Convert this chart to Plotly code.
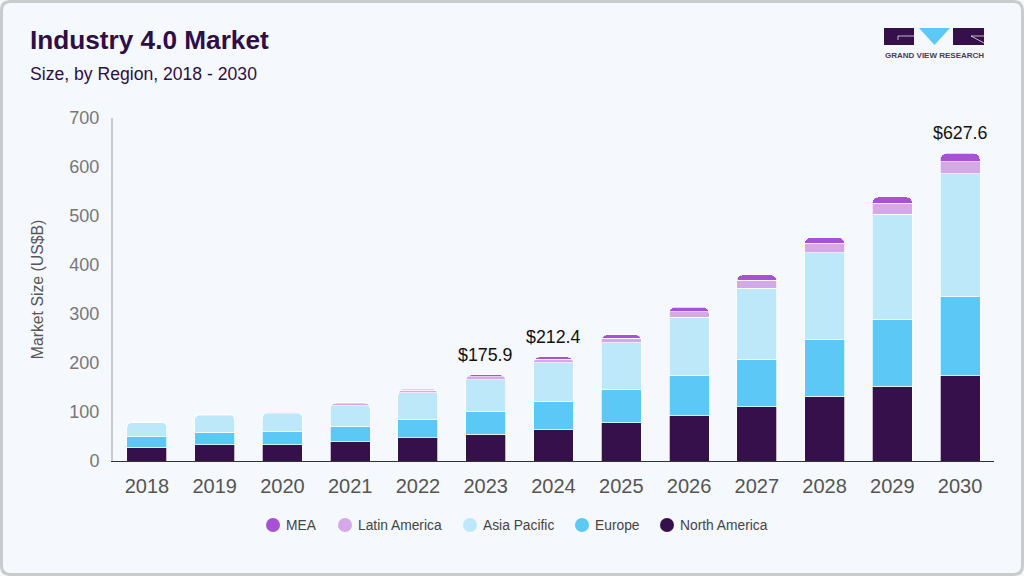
import plotly.graph_objects as go

years = ["2018", "2019", "2020", "2021", "2022", "2023", "2024", "2025", "2026", "2027", "2028", "2029", "2030"]
north_america = [28, 33, 33, 39, 47, 55, 65, 78, 92, 111, 132, 153, 174]
europe = [22, 26, 27, 32, 38, 47, 57, 67, 83, 97, 115, 136, 161]
asia_pacific = [29, 33, 36, 42, 54, 64, 79, 96, 118, 145, 178, 215, 251]
latin_america = [0.5, 3, 2.5, 4, 5, 6, 7, 10, 12, 16, 19, 22, 25]
mea = [0.3, 0.5, 1, 1.5, 2.5, 3.9, 4.4, 7, 9, 11, 12, 13, 16.6]
callout_years = ["2023", "2024", "2030"]
callout_values = [175.9, 212.4, 627.6]

W, H = 1024, 576
L, R, T, B = 113, 30, 118, 115

BG = "#f5f8fd"
DARK = "#35104a"
series = [
    ("North America", north_america, "#35104a"),
    ("Europe", europe, "#5bc8f5"),
    ("Asia Pacific", asia_pacific, "#bde8fa"),
    ("Latin America", latin_america, "#d5a9e8"),
    ("MEA", mea, "#a752d6"),
]
# centre of each legend dot on the page, same order as series
legend_dot_x = [667, 582, 470, 345, 273]


# page pixels to paper coordinates, for the frame, logo and legend
def px(x):
    return (x - L) / (W - L - R)


def py(y):
    return (H - B - y) / (H - T - B)


fig = go.Figure()
for name, values, color in series:
    fig.add_trace(go.Bar(
        x=years, y=values, name=name, showlegend=False,
        marker=dict(color=color, line=dict(color="white", width=0.7)),
        hoverinfo="x+y+name",
    ))

# numeric strings on a category axis get read as positions, so pass the index
for year, value in zip(callout_years, callout_values):
    fig.add_annotation(
        x=years.index(year), y=value, text="$" + str(value), showarrow=False,
        yanchor="bottom", yshift=8, xshift=-0.5, font=dict(size=17.8, color="#111111"),
    )

shapes = []
# frame
r = 9
x0, y0, x1, y1 = px(1.5), py(1.5), px(W - 1.5), py(H - 1.5)
rx, ry = r / (W - L - R), r / (H - T - B)
shapes.append(dict(
    type="path", xref="paper", yref="paper",
    path=f"M{x0 + rx},{y0} L{x1 - rx},{y0} Q{x1},{y0} {x1},{y0 - ry} L{x1},{y1 + ry} Q{x1},{y1} {x1 - rx},{y1} "
         f"L{x0 + rx},{y1} Q{x0},{y1} {x0},{y1 + ry} L{x0},{y0 - ry} Q{x0},{y0} {x0 + rx},{y0} Z",
    line=dict(color="#c9cccc", width=3), layer="below",
))
# logo
shapes.append(dict(type="rect", xref="paper", yref="paper", x0=px(884), x1=px(914), y0=py(28), y1=py(45),
                   fillcolor=DARK, line_width=0))
shapes.append(dict(type="rect", xref="paper", yref="paper", x0=px(953), x1=px(984), y0=py(28), y1=py(45),
                   fillcolor=DARK, line_width=0))
shapes.append(dict(type="path", xref="paper", yref="paper",
                   path=f"M{px(919)},{py(28)} L{px(950)},{py(28)} L{px(934.5)},{py(45)} Z",
                   fillcolor="#5bc8f5", line_width=0))
shapes.append(dict(type="path", xref="paper", yref="paper",
                   path=f"M{px(914)},{py(36)} L{px(898)},{py(36)} L{px(898)},{py(40)}",
                   line=dict(color="white", width=0.7)))
shapes.append(dict(type="path", xref="paper", yref="paper",
                   path=f"M{px(971)},{py(36)} L{px(984)},{py(36)} M{px(971)},{py(36)} L{px(984)},{py(43)}",
                   line=dict(color="white", width=0.7)))

# legend, drawn by hand because plotly's fixed item width is too wide here
for (name, values, color), cx in zip(series, legend_dot_x):
    shapes.append(dict(type="circle", xref="paper", yref="paper",
                       x0=px(cx - 7), x1=px(cx + 7), y0=py(518), y1=py(532),
                       fillcolor=color, line_width=0))
    fig.add_annotation(xref="paper", yref="paper", x=px(cx + 13), y=py(525.5), xanchor="left", yanchor="middle",
                       text=name, showarrow=False, xshift=-2, font=dict(size=13.8, color="#444444"))

fig.update_layout(
    width=W, height=H,
    margin=dict(l=L, r=R, t=T, b=B, autoexpand=False),
    paper_bgcolor=BG, plot_bgcolor=BG,
    barmode="stack", bargap=0.41, barcornerradius=6,
    font=dict(family="Liberation Sans, Arial, sans-serif"),
    shapes=shapes,
    showlegend=False,
    xaxis=dict(
        type="category", categoryorder="array", categoryarray=years, range=[-0.5, 12.5],
        tickfont=dict(size=20, color="#555555"), ticks="", ticklabelstandoff=7,
        showline=True, linecolor="#333333", linewidth=1, showgrid=False, zeroline=False,
    ),
    yaxis=dict(
        range=[0, 700], tick0=0, dtick=100,
        tickfont=dict(size=18, color="#777777"), ticks="", ticklabelstandoff=8,
        showline=True, linecolor="#c9cccc", linewidth=2, showgrid=False, zeroline=False,
        title=dict(text="Market Size (US$B)", font=dict(size=15.8, color="#555555"), standoff=22),
    ),
)

fig.add_annotation(xref="paper", yref="paper", x=px(28), y=py(40), xanchor="left", yanchor="middle",
                   text="<b>Industry 4.0 Market</b>", showarrow=False, font=dict(size=26.2, color="#2e0f44"))
fig.add_annotation(xref="paper", yref="paper", x=px(28), y=py(74), xanchor="left", yanchor="middle",
                   text="Size, by Region, 2018 - 2030", showarrow=False, font=dict(size=17.6, color="#2e0f44"))
fig.add_annotation(xref="paper", yref="paper", x=px(934), y=py(55), xanchor="center", yanchor="middle",
                   text="<b>GRAND VIEW RESEARCH</b>", showarrow=False, font=dict(size=8, color="#4a3a5c"))

fig.write_html("out.html", config=dict(displayModeBar=False),
               post_script="document.body.style.margin='0';document.body.style.overflow='hidden';")
